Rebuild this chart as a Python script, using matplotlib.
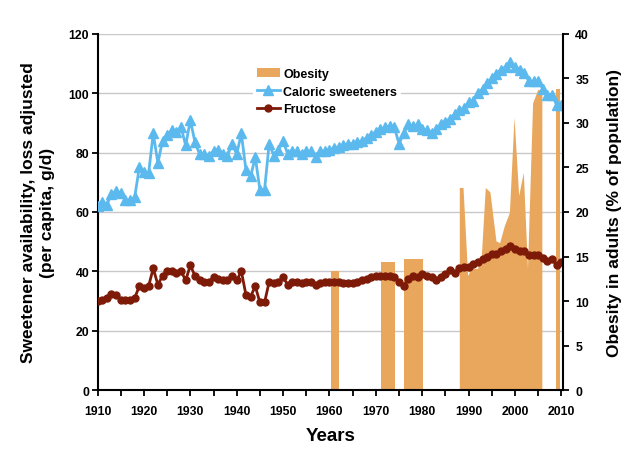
import numpy as np
import matplotlib
matplotlib.use("Agg")
import matplotlib.pyplot as plt

plt.rcParams['font.family'] = ['Liberation Sans', 'DejaVu Sans']
plt.rcParams['font.weight'] = 'bold'

# per-year series, 1910-2010
years = np.arange(1910, 2011)

sweeteners = [
    62, 63.5, 62.5, 66, 67, 66.5, 64, 64, 65, 75,
    73.5, 73, 86.5, 76.5, 84, 86, 87.5, 87, 88.5, 82.5,
    91, 83.5, 79.5, 79.5, 79, 80.5, 81, 79.5, 79, 83,
    79.5, 86.5, 74, 72, 78.5, 67.5, 67.5, 83, 79, 81,
    84, 79.5, 80.5, 80.5, 79.5, 80.5, 80.5, 78.5, 80.5, 80.5,
    81, 81.5, 82, 82.5, 83, 83, 83.5, 84, 85, 86,
    87, 88, 88.5, 89, 88.5, 83, 86.5, 89.5, 89, 89.5,
    88, 87.5, 86.5, 88, 89.5, 90.5, 91.5, 93, 94.5, 95,
    97, 97.5, 100, 101.5, 103.5, 105, 106.5, 108, 109, 110.5,
    109, 108, 107, 104, 104, 104, 101.5, 99.5, 99.5, 96,
    96,
]

fructose = [
    30, 30.5, 31, 32.5, 32, 30.5, 30.5, 30.5, 31, 35,
    34.5, 35, 41, 35.5, 38.5, 40, 40, 39.5, 40, 37,
    42, 38.5, 37, 36.5, 36.5, 38, 37.5, 37, 37, 38.5,
    37, 40, 32, 31.5, 35, 29.5, 29.5, 36.5, 36, 36.5,
    38, 35.5, 36.5, 36.5, 36, 36.5, 36.5, 35.5, 36, 36.5,
    36.5, 36.5, 36.5, 36, 36, 36, 36.5, 37, 37.5, 38,
    38.5, 38.5, 38.5, 38.5, 38, 36.5, 35, 37.5, 38.5, 38,
    39, 38.5, 38, 37, 38, 39, 40.5, 39.5, 41, 41.5,
    41.5, 42.5, 43, 44, 45, 46, 46, 47, 47.5, 48.5,
    47.5, 47, 47, 45.5, 45.5, 45.5, 44.5, 43.5, 44, 42,
    43,
]

# obesity survey periods (right axis), NaN separates periods
nan = np.nan
obesity_years = [1960.3, 1962.0, nan,
                 1971.1, 1974.1, nan,
                 1976.0, 1980.1, nan,
                 1988.1, 1988.9, 1989.9, 1990.6, 1992.0, 1992.8, 1993.7,
                 1994.7, 1996.0, 1996.8, 1997.8, 1998.9, 1999.9, 2000.9,
                 2001.9, 2002.8, 2003.9, 2005.0, 2005.9, nan,
                 2008.9, 2009.8]
obesity_pct = [13.4, 13.4, nan,
               14.4, 14.4, nan,
               14.7, 14.7, nan,
               22.7, 22.7, 12.8, 13.6, 13.6, 14.6, 22.7,
               22.2, 16.7, 16.5, 18.4, 19.9, 30.6, 21.8,
               24.4, 13.6, 32.2, 33.7, 33.7, nan,
               33.8, 33.8]

orange = '#E8A75C'
blue = '#5CB9EE'
darkred = '#7E1A08'

fig = plt.figure(figsize=(6.39, 4.64), dpi=100)
ax = fig.add_axes([0.1527, 0.1573, 0.7280, 0.7673])
ax2 = ax.twinx()

ax.set_xlim(1910, 2010.3)
ax.set_ylim(0, 120)
ax2.set_ylim(0, 40)

# obesity drawn on the main axes in right-axis units so the lines sit above it
ax.fill_between(obesity_years, 0, obesity_pct, transform=ax2.transData,
                color=orange, linewidth=0, zorder=1, label='Obesity')
ax.plot(years, sweeteners, color=blue, lw=2, marker='^', ms=6.5,
        zorder=3, label='Caloric sweeteners')
ax.plot(years, fructose, color=darkred, lw=2, marker='o', ms=5,
        zorder=4, label='Fructose')

ax.set_axisbelow(True)
ax.yaxis.grid(True, color='#C8C8C8', lw=1)
ax.set_yticks(np.arange(0, 121, 20))
ax2.set_yticks(np.arange(0, 41, 5))
ax.set_xticks(np.arange(1910, 2011, 10))
ax.set_xticks(np.arange(1915, 2011, 10), minor=True)

for a in (ax, ax2):
    a.spines['top'].set_visible(False)
    for s in a.spines.values():
        s.set_linewidth(1.5)
ax.spines['right'].set_visible(False)
ax2.spines['left'].set_visible(False)
ax2.spines['bottom'].set_visible(False)

ax.tick_params(axis='x', which='both', direction='out', length=4,
               width=1.3, labelsize=8.8, pad=7)
ax.tick_params(axis='y', direction='out', length=4,
               width=1.3, labelsize=8.8, pad=2)
ax2.tick_params(axis='y', direction='out', length=4, width=1.3,
                labelsize=8.8, pad=5)
for lab in ax.get_xticklabels() + ax.get_yticklabels() + ax2.get_yticklabels():
    lab.set_fontweight('bold')

ax.set_xlabel('Years', fontsize=13.5, fontweight='bold', labelpad=7)
ax.set_ylabel('Sweetener availability, loss adjusted\n(per capita, g/d)',
              fontsize=12.5, fontweight='bold', labelpad=10, linespacing=1.35)
ax2.set_ylabel('Obesity in adults (% of population)', fontsize=12.5,
               fontweight='bold', labelpad=13)

leg = ax.legend(loc='upper left', bbox_to_anchor=(0.335, 0.915),
                borderaxespad=0, frameon=True, fancybox=False,
                prop={'size': 9, 'weight': 'bold'}, handlelength=1.8,
                handletextpad=0.3, labelspacing=0.45, borderpad=0.3)
leg.get_frame().set_facecolor('white')
leg.get_frame().set_edgecolor('none')
leg.get_frame().set_alpha(1)

fig.savefig('out.png', dpi=100)
